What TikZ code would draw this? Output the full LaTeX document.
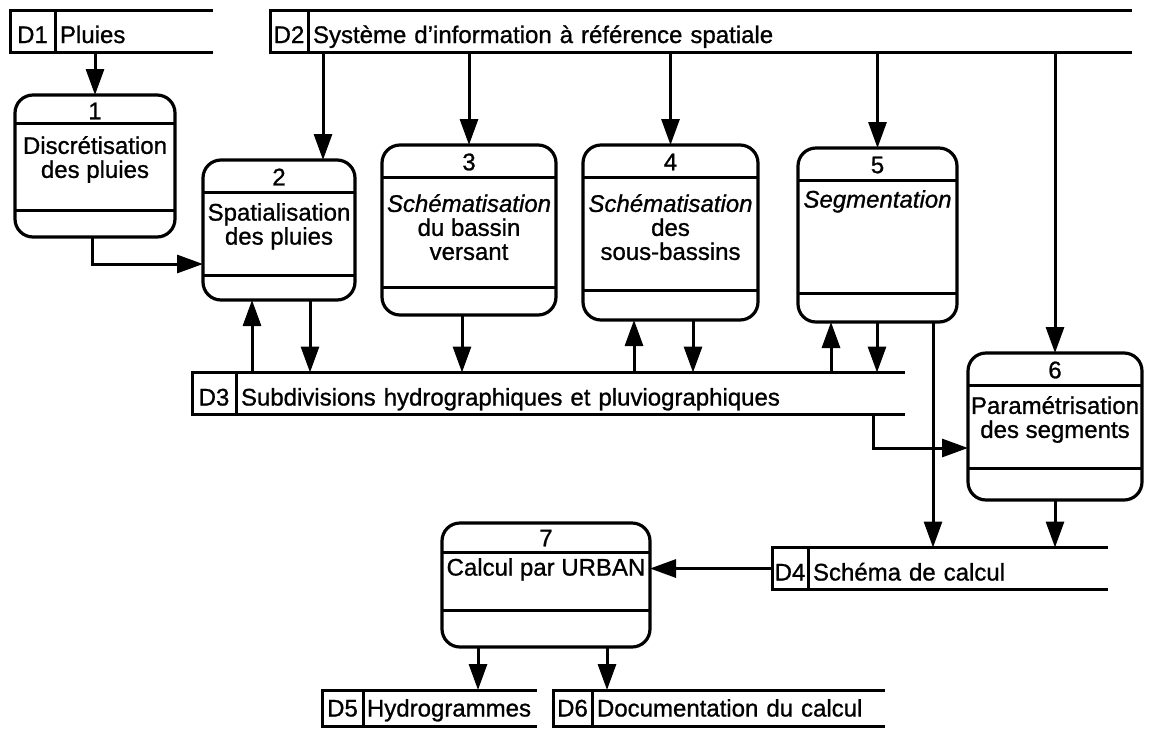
\documentclass[tikz,border=0pt]{standalone}
\usepackage{fontspec}
\setmainfont{Liberation Sans}[FakeBold=1.0]
\usepackage{tikz}
\usetikzlibrary{positioning,arrows.meta,calc}

\begin{document}
\begin{tikzpicture}[
    x=1pt, y=-1pt,
    every node/.style={font=\fontsize{24}{24}\selectfont},
    proc/.style={draw, line width=3.2pt, rounded corners=18pt, inner sep=0pt, outer sep=0pt},
    num/.style={inner sep=0pt},
    ptext/.style={anchor=north, align=center, inner sep=0pt},
    sid/.style={draw, line width=3pt, minimum height=42pt, inner sep=0pt, outer sep=0pt, text height=24pt, text depth=0pt},
    sbody/.style={minimum height=42pt, inner xsep=5pt, inner ysep=0pt, outer sep=0pt, align=left, text height=24pt, text depth=0pt},
    low/.style={minimum height=36pt, text height=17pt},
    rule/.style={line width=3pt},
    flow/.style={-{Triangle[length=26pt, width=18pt]}, line width=3pt}
]
    \useasboundingbox[fill=white] (0,0) rectangle (1152,732);

    % Stockages
    \node[sid, minimum width=45] (d1) at (32.5,31) {D1};
    \node[sbody, right=0pt of d1, text width=148] (s1) {Pluies};
    \node[sid, minimum width=38] (d2) at (289,31) {D2};
    \node[sbody, right=0pt of d2, text width=814] (s2) {Système d'information à référence spatiale};
    \node[sid, minimum width=44] (d3) at (214,393.5) {D3};
    \node[sbody, right=0pt of d3, text width=659] (s3) {Subdivisions hydrographiques et pluviographiques};
    \node[sid, minimum width=36] (d4) at (790,568.5) {D4};
    \node[sbody, right=0pt of d4, text width=290] (s4) {Schéma de calcul};
    \node[sid, low, minimum width=41] (d5) at (342.5,708) {D5};
    \node[sbody, low, right=0pt of d5, inner xsep=4pt, text width=166] (s5) {Hydrogrammes};
    \node[sid, low, minimum width=39] (d6) at (572.5,708) {D6};
    \node[sbody, low, right=0pt of d6, text width=283] (s6) {Documentation du calcul};
    \draw[rule] (d1.north west) -- (s1.north east) (d1.south west) -- (s1.south east);
    \draw[rule] (d2.north west) -- (s2.north east) (d2.south west) -- (s2.south east);
    \draw[rule] (d3.north west) -- (s3.north east) (d3.south west) -- (s3.south east);
    \draw[rule] (d4.north west) -- (s4.north east) (d4.south west) -- (s4.south east);
    \draw[rule] (d5.north west) -- (s5.north east) (d5.south west) -- (s5.south east);
    \draw[rule] (d6.north west) -- (s6.north east) (d6.south west) -- (s6.south east);

    % Processus 1
    \node[proc, minimum width=160, minimum height=142] (p1) at (95,166) {};
    \draw[rule] ([yshift=-28]p1.north west) -- ([yshift=-28]p1.north east)
                ([yshift=27]p1.south west) -- ([yshift=27]p1.south east);
    \node[num] (n1) at ([yshift=-16]p1.north) {1};
    \node[ptext] (t1) at ([yshift=-41]p1.north) {Discrétisation\\des pluies};

    % Processus 2
    \node[proc, minimum width=152, minimum height=140] (p2) at (279,230) {};
    \draw[rule] ([yshift=-32]p2.north west) -- ([yshift=-32]p2.north east)
                ([yshift=25]p2.south west) -- ([yshift=25]p2.south east);
    \node[num] (n2) at ([yshift=-17]p2.north) {2};
    \node[ptext] (t2) at ([yshift=-43]p2.north) {Spatialisation\\des pluies};

    % Processus 3
    \node[proc, minimum width=174, minimum height=170] (p3) at (469,230) {};
    \draw[rule] ([yshift=-32]p3.north west) -- ([yshift=-32]p3.north east)
                ([yshift=28]p3.south west) -- ([yshift=28]p3.south east);
    \node[num] (n3) at ([yshift=-17]p3.north) {3};
    \node[ptext] (t3) at ([yshift=-49]p3.north) {\textit{Schématisation}\\du bassin\\versant};

    % Processus 4
    \node[proc, minimum width=175, minimum height=175] (p4) at (670.5,232.5) {};
    \draw[rule] ([yshift=-32]p4.north west) -- ([yshift=-32]p4.north east)
                ([yshift=30]p4.south west) -- ([yshift=30]p4.south east);
    \node[num] (n4) at ([yshift=-17]p4.north) {4};
    \node[ptext] (t4) at ([yshift=-49]p4.north) {\textit{Schématisation}\\des\\sous-bassins};

    % Processus 5
    \node[proc, minimum width=159, minimum height=174] (p5) at (877.5,235) {};
    \draw[rule] ([yshift=-32]p5.north west) -- ([yshift=-32]p5.north east)
                ([yshift=29]p5.south west) -- ([yshift=29]p5.south east);
    \node[num] (n5) at ([yshift=-17]p5.north) {5};
    \node[ptext] (t5) at ([yshift=-42]p5.north) {\textit{Segmentation}};

    % Processus 6
    \node[proc, minimum width=174, minimum height=147] (p6) at (1055,426.5) {};
    \draw[rule] ([yshift=-32]p6.north west) -- ([yshift=-32]p6.north east)
                ([yshift=32]p6.south west) -- ([yshift=32]p6.south east);
    \node[num] (n6) at ([yshift=-17]p6.north) {6};
    \node[ptext] (t6) at ([yshift=-43]p6.north) {Paramétrisation\\des segments};

    % Processus 7
    \node[proc, minimum width=208, minimum height=124] (p7) at (546,585) {};
    \draw[rule] ([yshift=-29]p7.north west) -- ([yshift=-29]p7.north east)
                ([yshift=37]p7.south west) -- ([yshift=37]p7.south east);
    \node[num] (n7) at ([yshift=-15]p7.north) {7};
    \node[ptext] (t7) at ([yshift=-35]p7.north) {Calcul par URBAN};

    % Flux depuis D1 et D2
    \draw[flow] (s1.south -| p1.north) -- (p1.north);
    \coordinate (i2) at (323,0 |- p2.north);
    \draw[flow] (s2.south -| i2) -- (i2);
    \draw[flow] (s2.south -| p3.north) -- (p3.north);
    \draw[flow] (s2.south -| p4.north) -- (p4.north);
    \draw[flow] (s2.south -| p5.north) -- (p5.north);
    \draw[flow] (s2.south -| p6.north) -- (p6.north);

    % 1 -> 2
    \coordinate (i12) at (p2.west |- 0,264);
    \draw[flow] ([xshift=-3]p1.south) |- (i12);

    % Echanges avec D3
    \coordinate (u2) at (252,0 |- p2.south);
    \coordinate (o2) at (310,0 |- p2.south);
    \coordinate (o3) at (462,0 |- p3.south);
    \coordinate (u4) at (634,0 |- p4.south);
    \coordinate (o4) at (693,0 |- p4.south);
    \coordinate (u5) at (831,0 |- p5.south);
    \coordinate (o5) at (877,0 |- p5.south);
    \draw[flow] (s3.north -| u2) -- (u2);
    \draw[flow] (o2) -- (s3.north -| o2);
    \draw[flow] (o3) -- (s3.north -| o3);
    \draw[flow] (s3.north -| u4) -- (u4);
    \draw[flow] (o4) -- (s3.north -| o4);
    \draw[flow] (s3.north -| u5) -- (u5);
    \draw[flow] (o5) -- (s3.north -| o5);

    % D3 -> 6
    \coordinate (i6) at (p6.west |- 0,448);
    \draw[flow] (873,0 |- s3.south) |- (i6);

    % Vers D4 puis 7
    \coordinate (o5b) at (933,0 |- p5.south);
    \draw[flow] (o5b) -- (s4.north -| o5b);
    \draw[flow] (p6.south) -- (s4.north -| p6.south);
    \draw[flow] (d4.west) -- (p7.east |- d4.west);

    % 7 -> D5, D6
    \coordinate (o7a) at (478,0 |- p7.south);
    \coordinate (o7b) at (607,0 |- p7.south);
    \draw[flow] (o7a) -- (s5.north -| o7a);
    \draw[flow] (o7b) -- (s6.north -| o7b);

\end{tikzpicture}
\end{document}
